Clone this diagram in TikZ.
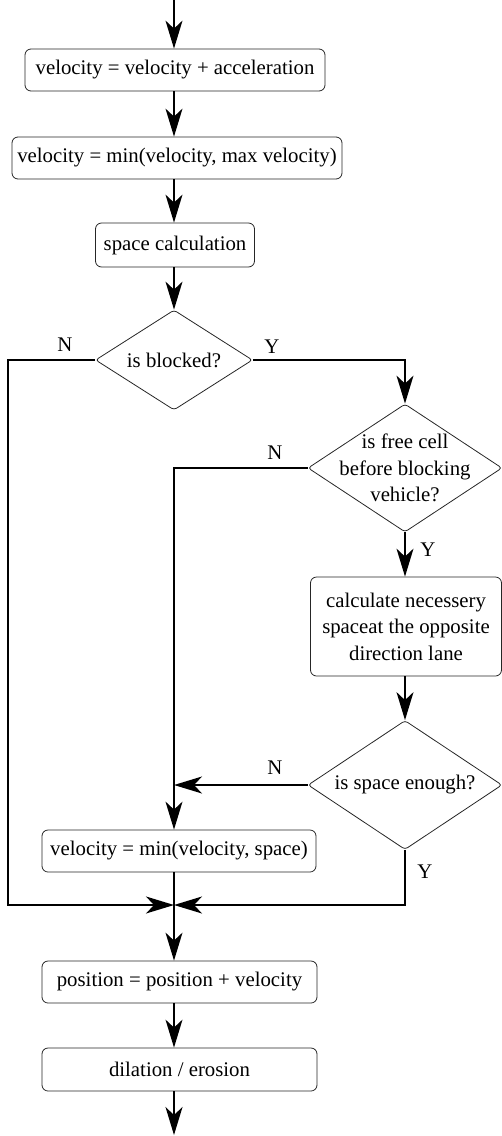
\documentclass[tikz,border=0pt]{standalone}
\usepackage{fontspec}
\setmainfont{Liberation Serif}
\usetikzlibrary{shapes.geometric,arrows.meta}

\begin{document}
\begin{tikzpicture}[x=1pt,y=-1pt,
		font=\fontsize{20.8}{26.5}\selectfont,
		every node/.style={inner sep=0pt},
		box/.style={draw=black!85,line width=0.8pt,rounded corners=6pt,minimum height=42pt,align=center},
		dec/.style={draw=black!85,line width=0.8pt,diamond,rounded corners=3pt},
		txt/.style={align=center},
		flow/.style={line width=1.5pt,-{Stealth[length=28pt,width=17pt,inset=8pt]}},
		wire/.style={line width=1.5pt}]
	\useasboundingbox (0,0) rectangle (502,1136);
	\coordinate (start) at (174,0);
	\node[box,minimum width=300pt] (accel) at (175,70) {velocity = velocity + acceleration};
	\node[box,minimum width=330pt] (maxvel) at (177,158) {velocity = min(velocity, max velocity)};
	\node[box,minimum width=159pt,minimum height=44pt] (space) at (175,245) {space calculation};
	\node[dec,minimum width=157pt,minimum height=100pt] (blocked) at (174,360) {};
	\node[txt] (blockedtxt) at (blocked) {is blocked?};
	\node[dec,minimum width=194pt,minimum height=128pt] (free) at (405,468) {};
	\node[txt] (freetxt) at (free) {is free cell\\before blocking\\vehicle?};
	\node[box,minimum width=191pt,minimum height=99pt] (calc) at (406,626.5) {calculate necessery\\spaceat the opposite\\direction lane};
	\node[dec,minimum width=194pt,minimum height=129pt] (enough) at (405,785) {};
	\node[txt] (enoughtxt) at (enough) {is space enough?};
	\node[box,minimum width=274pt] (minspace) at (179,851) {velocity = min(velocity, space)};
	\coordinate (merge) at (174,905);
	\node[box,minimum width=275pt] (position) at (179.5,982) {position = position + velocity};
	\node[box,minimum width=275pt,minimum height=43pt] (dilation) at (179.5,1069.5) {dilation / erosion};
	\coordinate (end) at (174,1135);

	\node (n1) at (65,345) {N};
	\node (y1) at (272,347) {Y};
	\node (n2) at (275,453) {N};
	\node (y2) at (428,550) {Y};
	\node (n3) at (275,768) {N};
	\node (y3) at (425,872) {Y};

	\draw[flow] (start) -- (start |- accel.north);
	\draw[flow] (start |- accel.south) -- (start |- maxvel.north);
	\draw[flow] (start |- maxvel.south) -- (start |- space.north);
	\draw[flow] (start |- space.south) -- (blocked.north);
	\draw[flow] (blocked.west) -| (8,905) -- (merge);
	\draw[flow] (blocked.east) -| (free.north);
	\draw[flow] (free.west) -| (merge |- minspace.north);
	\draw[flow] (free.south) -- (free |- calc.north);
	\draw[flow] (free |- calc.south) -- (enough.north);
	\draw[flow] (enough.west) -- (enough.west -| merge);
	\draw[flow] (enough.south) |- (merge);
	\draw[wire] (merge |- minspace.south) -- (merge);
	\draw[flow] (merge) -- (merge |- position.north);
	\draw[flow] (merge |- position.south) -- (merge |- dilation.north);
	\draw[flow] (merge |- dilation.south) -- (end);
\end{tikzpicture}
\end{document}
